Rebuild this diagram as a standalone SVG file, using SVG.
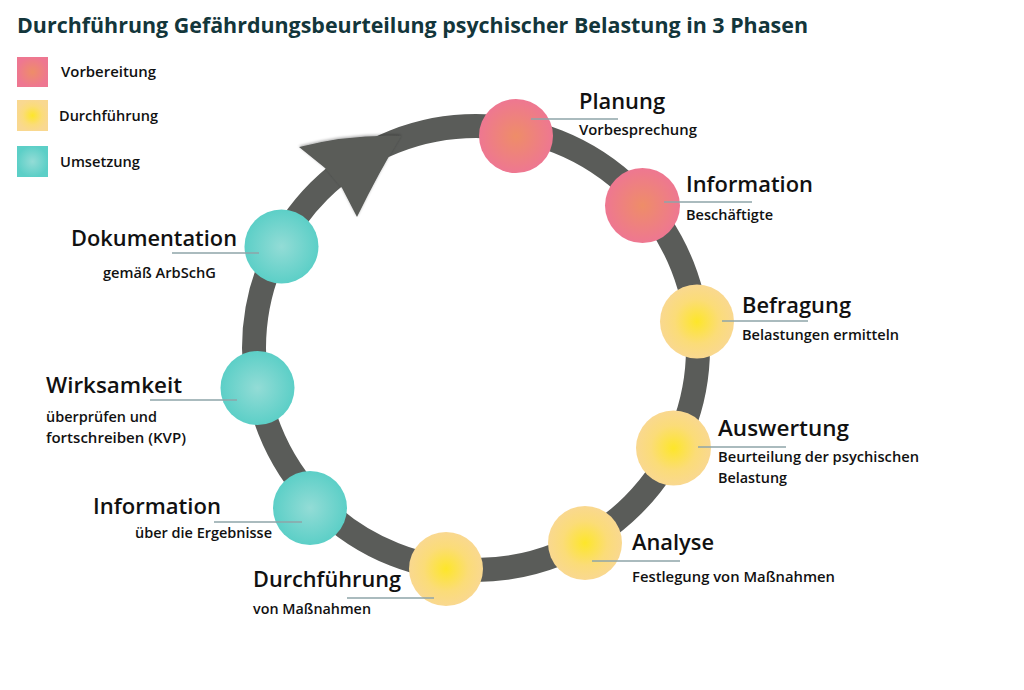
<svg xmlns="http://www.w3.org/2000/svg" width="1024" height="690" viewBox="0 0 1024 690">
<defs>
<radialGradient id="gPink" cx="0.5" cy="0.5" r="0.5">
<stop offset="0" stop-color="#ee8d68"/>
<stop offset="1" stop-color="#ee7791"/>
</radialGradient>
<radialGradient id="gYellow" cx="0.5" cy="0.5" r="0.5">
<stop offset="0" stop-color="#fde62a"/>
<stop offset="0.6" stop-color="#fbdc78"/>
<stop offset="1" stop-color="#f9d890"/>
</radialGradient>
<radialGradient id="gTeal" cx="0.5" cy="0.5" r="0.5">
<stop offset="0" stop-color="#93dcd6"/>
<stop offset="1" stop-color="#5ccfc7"/>
</radialGradient>
<filter id="sh" x="-20%" y="-20%" width="140%" height="140%">
<feGaussianBlur in="SourceAlpha" stdDeviation="1.5"/>
<feOffset dx="0" dy="-1"/>
<feComponentTransfer><feFuncA type="linear" slope="0.35"/></feComponentTransfer>
<feMerge><feMergeNode/><feMergeNode in="SourceGraphic"/></feMerge>
</filter>
</defs>
<style>
.title{font-family:"Open Sans","Liberation Sans",sans-serif;font-weight:700;font-size:22px;fill:#13363b}
.leg{font-family:"Open Sans","Liberation Sans",sans-serif;font-weight:600;font-size:14.5px;fill:#111}
.h{font-family:"Open Sans","Liberation Sans",sans-serif;font-weight:600;font-size:22px;fill:#111}
.s{font-family:"Open Sans","Liberation Sans",sans-serif;font-weight:600;font-size:14px;fill:#111}
.ln{stroke:#8ea4a8;stroke-width:1.3;fill:none}
.ring{fill:none;stroke:#5a5c59;stroke-width:24}
.pink{fill:url(#gPink)}
.yellow{fill:url(#gYellow)}
.teal{fill:url(#gTeal)}
</style>
<rect width="1024" height="690" fill="#ffffff"/>
<text class="title" x="17" y="33" textLength="791" lengthAdjust="spacingAndGlyphs">Durchführung Gefährdungsbeurteilung psychischer Belastung in 3 Phasen</text>
<g id="legend">
<rect class="pink" x="17" y="57" width="31" height="30"/>
<text class="leg" x="61" y="77" textLength="95" lengthAdjust="spacingAndGlyphs">Vorbereitung</text>
<rect class="yellow" x="17" y="100" width="31" height="31"/>
<text class="leg" x="59" y="121" textLength="99" lengthAdjust="spacingAndGlyphs">Durchführung</text>
<rect class="teal" x="17" y="146" width="31" height="31"/>
<text class="leg" x="60" y="167" textLength="80" lengthAdjust="spacingAndGlyphs">Umsetzung</text>
</g>
<g id="connectors">
<circle class="ring" cx="476" cy="348" r="222"/>
<path d="M299,147 Q350,134 401,136 Q379,172 357,217 L342,188 L325,168 Z" fill="#5a5c59" filter="url(#sh)"/>
</g>
<g id="node-planung">
<circle class="pink" cx="516" cy="136" r="37"/>
<line class="ln" x1="531" y1="119" x2="618" y2="119"/>
<text class="h" x="579" y="109" textLength="86" lengthAdjust="spacingAndGlyphs">Planung</text>
<text class="s" x="579" y="135" textLength="118" lengthAdjust="spacingAndGlyphs">Vorbesprechung</text>
</g>
<g id="node-information1">
<circle class="pink" cx="642.5" cy="205.5" r="37.5"/>
<line class="ln" x1="664" y1="202" x2="752" y2="202"/>
<text class="h" x="686" y="192" textLength="127" lengthAdjust="spacingAndGlyphs">Information</text>
<text class="s" x="686" y="220" textLength="87" lengthAdjust="spacingAndGlyphs">Beschäftigte</text>
</g>
<g id="node-befragung">
<circle class="yellow" cx="697" cy="321.5" r="37"/>
<line class="ln" x1="722" y1="321" x2="808" y2="321"/>
<text class="h" x="742" y="313" textLength="109" lengthAdjust="spacingAndGlyphs">Befragung</text>
<text class="s" x="742" y="340" textLength="157" lengthAdjust="spacingAndGlyphs">Belastungen ermitteln</text>
</g>
<g id="node-auswertung">
<circle class="yellow" cx="673.5" cy="448" r="37.5"/>
<line class="ln" x1="698" y1="447" x2="786" y2="447"/>
<text class="h" x="718" y="436" textLength="131" lengthAdjust="spacingAndGlyphs">Auswertung</text>
<text class="s" x="718" y="462" textLength="201" lengthAdjust="spacingAndGlyphs">Beurteilung der psychischen</text>
<text class="s" x="718" y="483" textLength="69" lengthAdjust="spacingAndGlyphs">Belastung</text>
</g>
<g id="node-analyse">
<circle class="yellow" cx="585" cy="543" r="37"/>
<line class="ln" x1="592" y1="561" x2="680" y2="561"/>
<text class="h" x="632" y="550" textLength="82" lengthAdjust="spacingAndGlyphs">Analyse</text>
<text class="s" x="632" y="582" textLength="203" lengthAdjust="spacingAndGlyphs">Festlegung von Maßnahmen</text>
</g>
<g id="node-durchfuehrung">
<circle class="yellow" cx="446" cy="569" r="37"/>
<line class="ln" x1="347" y1="598" x2="434" y2="598"/>
<text class="h" x="253" y="587" textLength="148" lengthAdjust="spacingAndGlyphs">Durchführung</text>
<text class="s" x="253" y="614" textLength="118" lengthAdjust="spacingAndGlyphs">von Maßnahmen</text>
</g>
<g id="node-information2">
<circle class="teal" cx="310" cy="508" r="37"/>
<line class="ln" x1="214" y1="522" x2="302" y2="522"/>
<text class="h" x="93" y="514" textLength="128" lengthAdjust="spacingAndGlyphs">Information</text>
<text class="s" x="135" y="538" textLength="137" lengthAdjust="spacingAndGlyphs">über die Ergebnisse</text>
</g>
<g id="node-wirksamkeit">
<circle class="teal" cx="257.5" cy="388" r="37"/>
<line class="ln" x1="150" y1="400" x2="237" y2="400"/>
<text class="h" x="46" y="393" textLength="136" lengthAdjust="spacingAndGlyphs">Wirksamkeit</text>
<text class="s" x="46" y="422" textLength="111" lengthAdjust="spacingAndGlyphs">überprüfen und</text>
<text class="s" x="46" y="443" textLength="140" lengthAdjust="spacingAndGlyphs">fortschreiben (KVP)</text>
</g>
<g id="node-dokumentation">
<circle class="teal" cx="281.5" cy="246.5" r="37"/>
<line class="ln" x1="172" y1="253" x2="259" y2="253"/>
<text class="h" x="71" y="246" textLength="166" lengthAdjust="spacingAndGlyphs">Dokumentation</text>
<text class="s" x="103" y="278" textLength="113" lengthAdjust="spacingAndGlyphs">gemäß ArbSchG</text>
</g>
</svg>
